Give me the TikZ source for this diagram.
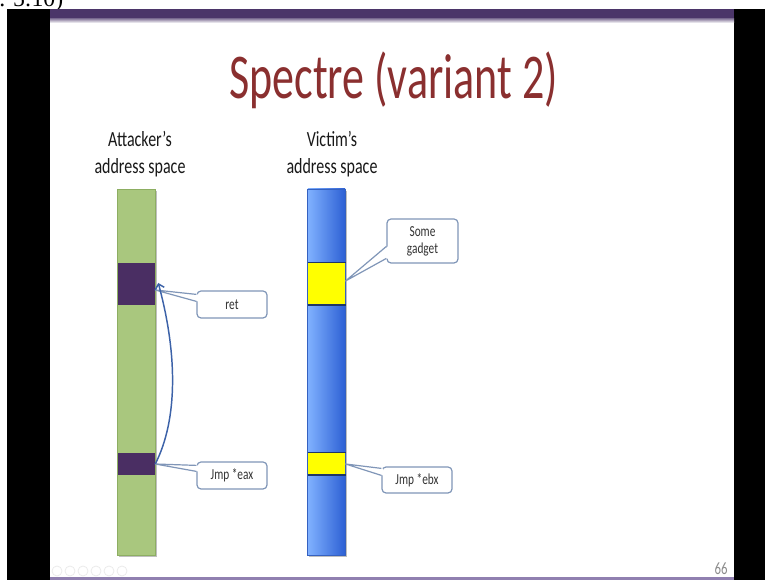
\documentclass[tikz,border=0pt]{standalone}
\usepackage{fontspec}
\setmainfont{Carlito}
\newfontfamily\capfont{Liberation Serif}
\usetikzlibrary{arrows.meta,calc,shadows}
\definecolor{titlered}{HTML}{8A2F2F}
\definecolor{barpurple}{HTML}{4B3569}
\definecolor{linepurple}{HTML}{9080B0}
\definecolor{attgreen}{HTML}{A9C77E}
\definecolor{attgreenedge}{HTML}{8DAE62}
\definecolor{blockpurple}{HTML}{4A2E63}
\definecolor{vicblueL}{HTML}{80B1FF}
\definecolor{vicblueR}{HTML}{2D60D4}
\definecolor{vicedge}{HTML}{3561C0}
\definecolor{gadyellow}{HTML}{FFFF00}
\definecolor{yedge}{HTML}{1F3766}
\definecolor{calloutedge}{HTML}{8096B8}
\definecolor{arrowblue}{HTML}{3C62A8}
\definecolor{pagegray}{HTML}{8C8C8C}
\newcommand{\vs}[1]{\scalebox{1}[1.35]{#1}}
\newcommand{\wedgeto}[4]{%
  \fill[white] ($(#1.north west)+(1.5,#2)$) -- (#4) -- ($(#1.north west)+(1.5,#3)$) -- cycle;
  \draw[calloutline] ($(#1.north west)+(0,#2)$) -- (#4) -- ($(#1.north west)+(0,#3)$);
}
\begin{document}
\begin{tikzpicture}[x=0.75pt,y=-0.75pt,
  lab/.style={inner sep=0pt, anchor=base, font=\fontsize{12}{14}\selectfont, text=black!90},
  bar/.style={inner sep=0pt, minimum width=28.1pt, minimum height=274.5pt},
  blockbig/.style={inner sep=0pt, minimum width=28.1pt, minimum height=31.5pt},
  blocksmall/.style={inner sep=0pt, minimum width=28.1pt, minimum height=16.5pt},
  calloutline/.style={draw=calloutedge, line width=0.9pt, line join=round},
  cbox/.style={calloutline, fill=white, rounded corners=3pt, inner sep=0pt,
    font=\fontsize{8.5}{12.75}\selectfont, text=black!80, align=center},
  barshadow/.style={general shadow={shadow xshift=1.2pt, shadow yshift=-1.2pt, fill=black, opacity=0.25}}
]
\useasboundingbox (0,0) rectangle (765,580);
% top strip with cut text
\begin{scope}
  \clip (0,0) rectangle (765,9);
  \node[font=\capfont\fontsize{17.8}{20}\selectfont, anchor=base west, inner sep=0pt] (clock) at (-1,7) {. 5:10)};
\end{scope}
% black side bars
\fill[black] (7,9) rectangle (50,580);
\fill[black] (734,9) rectangle (765,580);
% slide
\fill[white] (50,9) rectangle (734,580);
\fill[barpurple] (50,9) rectangle (734,19);
\shade[top color=barpurple!60, bottom color=white] (50,19) rectangle (734,23);
\fill[linepurple] (50,577) rectangle (734,580);
% title
\node[font=\fontsize{33}{38}\selectfont, text=titlered, anchor=base, inner sep=0pt] (title) at (393.5,99) {\scalebox{1}[1.45]{Spectre (variant 2)}};
% column labels
\node[lab] (att1) at (140,147) {\vs{Attacker’s}};
\node[lab] (att2) at (140,174) {\vs{address space}};
\node[lab] (vic1) at (332,147) {\vs{Victim’s}};
\node[lab] (vic2) at (332,174) {\vs{address space}};
% attacker bar
\node[bar, barshadow, fill=attgreen, draw=attgreenedge, line width=0.6pt] (gbar) at (136.25,372) {};
\node[blockbig, fill=blockpurple] (ga) at (136.25,284) {};
\node[blocksmall, fill=blockpurple] (gb) at (136.25,464) {};
% victim bar
\node[bar, barshadow, left color=vicblueL, right color=vicblueR, draw=vicedge, line width=0.6pt] (vbar) at (326.5,372) {};
\node[blockbig, fill=gadyellow] (va) at (326.5,284) {};
\node[blocksmall, fill=gadyellow] (vb) at (326.5,464) {};
\draw[yedge, line width=0.5pt] (va.north west) -- (va.north east);
\draw[yedge, line width=1.2pt] (va.south west) -- (va.south east);
\draw[yedge, line width=0.5pt] (vb.north west) -- (vb.north east);
\draw[yedge, line width=1.2pt] (vb.south west) -- (vb.south east);
% callouts
\node[cbox, minimum width=52.5pt, minimum height=20.25pt] (ret) at (232,304.5) {\vs{ret}};
\wedgeto{ret}{4}{11}{$(ga.east)+(0,6)$}
\node[cbox, minimum width=52.5pt, minimum height=20.25pt] (jeax) at (232,475.5) {\vs{Jmp *eax}};
\wedgeto{jeax}{4}{10}{gb.east}
\node[cbox, minimum width=53.25pt, minimum height=33pt] (gadget) at (422.5,241) {\vs{Some}\\\vs{gadget}};
\wedgeto{gadget}{28}{40}{$(va.east)+(0,-3)$}
\node[cbox, minimum width=52.5pt, minimum height=19.5pt] (jebx) at (417,480) {\vs{Jmp *ebx}};
\wedgeto{jebx}{2}{9}{vb.east}
% curved arrow
\draw[arrowblue, line width=1.1pt, -{Straight Barb[length=3.5pt,width=7pt]}]
  (gb.east) .. controls +(23,-45) and +(19,70) .. ($(ga.east)+(3,-1)$);
% footer
\foreach \i/\xx in {1/57,2/70,3/83,4/96,5/109,6/122}
  \node[circle, draw=black!8, line width=0.6pt, minimum size=7.5pt, inner sep=0pt] (nav\i) at (\xx,571) {};
\node[font=\fontsize{9.6}{11}\selectfont, text=pagegray, anchor=base, inner sep=0pt] (page) at (721,575) {\vs{66}};
\end{tikzpicture}
\end{document}
